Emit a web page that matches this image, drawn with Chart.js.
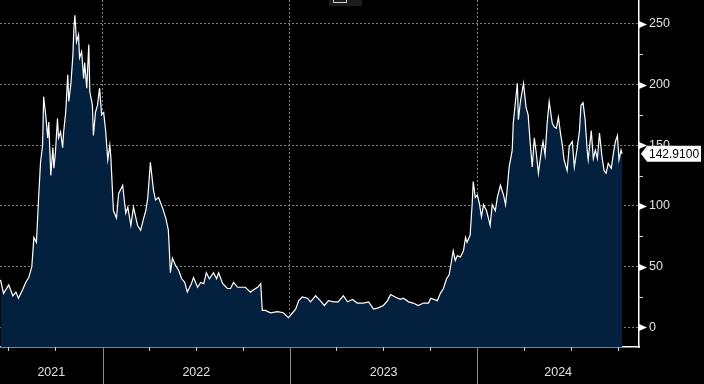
<!DOCTYPE html>
<html>
<head>
<meta charset="utf-8">
<script src="https://cdn.jsdelivr.net/npm/chart.js@4.4.1/dist/chart.umd.min.js"></script>
<style>
    html, body { margin: 0; padding: 0; background: #000; }
    #contenedor { width: 704px; height: 384px; position: relative; }
</style>
</head>
<body>
<div id="contenedor"><canvas id="precioChart"></canvas></div>
<script>
// Serie de precios (fecha aproximada -> cierre)
const fechas = [
    '2021-06-16','2021-06-22','2021-07-02','2021-07-10','2021-07-16','2021-07-21','2021-07-29','2021-08-04',
    '2021-08-10','2021-08-16','2021-08-20','2021-08-25','2021-08-27','2021-08-29','2021-09-02','2021-09-06',
    '2021-09-08','2021-09-12','2021-09-16','2021-09-18','2021-09-22','2021-09-26','2021-09-28','2021-10-01',
    '2021-10-05','2021-10-07','2021-10-11','2021-10-15','2021-10-17','2021-10-21','2021-10-25','2021-10-27',
    '2021-10-31','2021-11-04','2021-11-06','2021-11-08','2021-11-11','2021-11-15','2021-11-17','2021-11-21',
    '2021-11-25','2021-11-27','2021-12-01','2021-12-05','2021-12-07','2021-12-12','2021-12-14','2021-12-18',
    '2021-12-22','2021-12-26','2021-12-30','2022-01-03','2022-01-07','2022-01-11','2022-01-15','2022-01-17',
    '2022-01-22','2022-01-28','2022-02-01','2022-02-09','2022-02-15','2022-02-19','2022-02-25','2022-03-02',
    '2022-03-10','2022-03-16','2022-03-22','2022-03-26','2022-03-30','2022-04-04','2022-04-10','2022-04-14',
    '2022-04-20','2022-04-28','2022-05-04','2022-05-09','2022-05-11','2022-05-13','2022-05-17','2022-05-23',
    '2022-05-29','2022-06-04','2022-06-10','2022-06-15','2022-06-23','2022-06-27','2022-07-05','2022-07-11',
    '2022-07-17','2022-07-22','2022-07-28','2022-08-05','2022-08-11','2022-08-15','2022-08-23','2022-09-01',
    '2022-09-07','2022-09-13','2022-09-21','2022-09-30','2022-10-06','2022-10-16','2022-10-22','2022-10-30',
    '2022-11-05','2022-11-08','2022-11-14','2022-11-24','2022-12-08','2022-12-19','2022-12-29','2023-01-06',
    '2023-01-12','2023-01-18','2023-01-25','2023-02-04','2023-02-10','2023-02-20','2023-03-01','2023-03-09',
    '2023-03-17','2023-03-27','2023-04-05','2023-04-15','2023-04-23','2023-05-03','2023-05-12','2023-05-24',
    '2023-06-03','2023-06-13','2023-06-22','2023-07-02','2023-07-10','2023-07-16','2023-07-25','2023-08-04',
    '2023-08-10','2023-08-20','2023-08-29','2023-09-08','2023-09-18','2023-09-28','2023-10-02','2023-10-15',
    '2023-10-21','2023-10-27','2023-11-02','2023-11-07','2023-11-11','2023-11-15','2023-11-19','2023-11-23',
    '2023-11-29','2023-12-05','2023-12-09','2023-12-12','2023-12-18','2023-12-22','2023-12-24','2023-12-28',
    '2024-01-01','2024-01-05','2024-01-09','2024-01-13','2024-01-19','2024-01-22','2024-01-26','2024-01-30',
    '2024-02-05','2024-02-09','2024-02-15','2024-02-21','2024-02-25','2024-02-28','2024-03-03','2024-03-09',
    '2024-03-11','2024-03-15','2024-03-19','2024-03-21','2024-03-25','2024-03-31','2024-04-05','2024-04-09',
    '2024-04-13','2024-04-17','2024-04-21','2024-04-25','2024-04-29','2024-05-05','2024-05-08','2024-05-12',
    '2024-05-16','2024-05-20','2024-05-26','2024-05-30','2024-06-03','2024-06-07','2024-06-11','2024-06-15',
    '2024-06-18','2024-06-24','2024-06-28','2024-07-04','2024-07-08','2024-07-14','2024-07-18','2024-07-21',
    '2024-07-25','2024-07-29','2024-08-02','2024-08-04','2024-08-10','2024-08-14','2024-08-18','2024-08-22',
    '2024-08-26','2024-08-31','2024-09-04','2024-09-08','2024-09-12','2024-09-18','2024-09-22','2024-09-26',
    '2024-09-30','2024-10-03','2024-10-07','2024-10-09'
];
const precios = [
    39, 28, 35, 26, 29, 24, 31, 37,
    41, 50, 74, 70, 87, 105, 136, 150,
    190, 175, 156, 169, 125, 148, 131, 144,
    172, 156, 161, 148, 161, 177, 208, 186,
    200, 224, 247, 257, 235, 241, 222, 227,
    205, 218, 197, 233, 194, 183, 158, 177,
    183, 197, 175, 177, 161, 138, 150, 140,
    96, 90, 110, 117, 94, 99, 84, 99,
    84, 80, 90, 96, 107, 136, 113, 105,
    107, 98, 90, 80, 63, 45, 57, 51,
    47, 40, 37, 29, 36, 41, 33, 37,
    36, 45, 40, 45, 40, 45, 36, 32,
    32, 37, 33, 33, 33, 29, 31, 33,
    36, 14, 14, 12, 13, 12, 8, 12,
    15, 22, 25, 24, 21, 26, 22, 18,
    22, 21, 21, 26, 21, 23, 20, 20,
    21, 15, 16, 18, 22, 27, 25, 23,
    24, 21, 20, 18, 20, 20, 24, 22,
    28, 32, 40, 43, 53, 63, 55, 59,
    58, 63, 74, 70, 76, 102, 120, 107,
    109, 102, 91, 101, 96, 91, 84, 101,
    96, 107, 117, 109, 101, 113, 132, 146,
    168, 185, 201, 171, 186, 201, 181, 175,
    152, 132, 156, 143, 127, 146, 153, 142,
    168, 186, 168, 165, 164, 173, 160, 149,
    138, 129, 149, 153, 132, 149, 162, 183,
    185, 171, 146, 138, 162, 139, 146, 139,
    160, 140, 129, 127, 135, 131, 143, 153,
    158, 138, 146, 142.91
];

// Ejes
const inicioEje = '2021-06-15';
const finEje = '2024-11-11';
const iniciosTrimestre = [
    '2021-07-01','2021-10-01','2022-01-01','2022-04-01','2022-07-01','2022-10-01','2023-01-01',
    '2023-04-01','2023-07-01','2023-10-01','2024-01-01','2024-04-01','2024-07-01','2024-10-01'
];
const etiquetasAnio = ['2021', '2022', '2023', '2024'];
const marcasY = [0, 25, 50, 75, 100, 125, 150, 175, 200, 225, 250];
const minY = -16.2;
const maxY = 269.6;
const ultimoPrecio = precios[precios.length - 1];

const colorRejilla = 'rgba(150,150,150,0.85)';
const fuenteEjes = { family: "'Liberation Sans', Arial, sans-serif", size: 12.5 };

// Días desde el 1 de enero de 2021
function dia(fecha) {
    return (Date.parse(fecha) - Date.parse('2021-01-01')) / 864e5;
}

const xMin = dia(inicioEje);
const xMax = dia(finEje);
const limitesAnio = iniciosTrimestre.filter(f => f.endsWith('-01-01')).map(dia);

// Las etiquetas de año van centradas en la parte visible de cada año
const etiquetaX = new Map();
etiquetasAnio.forEach(a => {
    const desde = Math.max(dia(a + '-01-01'), xMin);
    const hasta = Math.min(dia((+a + 1) + '-01-01'), xMax);
    etiquetaX.set((desde + hasta) / 2, a);
});
const ticksX = iniciosTrimestre.map(dia).concat([...etiquetaX.keys()]).sort((a, b) => a - b);

// Sin márgenes automáticos: el área del gráfico llega al borde izquierdo y al superior
function sinRelleno(eje) {
    eje.paddingTop = 0;
    eje.paddingBottom = 0;
    eje.paddingLeft = 0;
    eje.paddingRight = 0;
}

// Marcas que Chart.js no dibuja solo: triángulos, marcas cortas, separadores y etiqueta de precio
const marcasEjes = {
    id: 'marcasEjes',
    afterDraw(chart) {
        const { ctx, chartArea: area, scales: { x, y } } = chart;
        ctx.save();

        // eje derecho
        marcasY.forEach(v => {
            const py = Math.round(y.getPixelForValue(v)) + 0.5;
            if (v % 50 === 0) {
                ctx.fillStyle = '#ffffff';
                ctx.beginPath();
                ctx.moveTo(area.right, py - 3.5);
                ctx.lineTo(area.right + 8, py);
                ctx.lineTo(area.right, py + 3.5);
                ctx.closePath();
                ctx.fill();
            } else {
                ctx.strokeStyle = '#d0d0d0';
                ctx.lineWidth = 1;
                ctx.beginPath();
                ctx.moveTo(area.right, py);
                ctx.lineTo(area.right + 4, py);
                ctx.stroke();
            }
        });

        // eje inferior
        iniciosTrimestre.forEach(f => {
            const px = Math.round(x.getPixelForValue(dia(f))) + 0.5;
            if (px < area.left || px > area.right) return;
            ctx.lineWidth = 1;
            ctx.beginPath();
            if (f.endsWith('-01-01')) {
                ctx.strokeStyle = '#8a8a8a';
                ctx.moveTo(px, area.bottom);
                ctx.lineTo(px, chart.height);
            } else {
                ctx.strokeStyle = '#d0d0d0';
                ctx.moveTo(px, area.bottom);
                ctx.lineTo(px, area.bottom + 4);
            }
            ctx.stroke();
        });

        // etiqueta del último precio
        const pt = y.getPixelForValue(ultimoPrecio);
        ctx.fillStyle = '#ffffff';
        ctx.beginPath();
        ctx.moveTo(area.right + 2, pt);
        ctx.lineTo(area.right + 8, pt - 8);
        ctx.lineTo(area.right + 62, pt - 8);
        ctx.lineTo(area.right + 62, pt + 8);
        ctx.lineTo(area.right + 8, pt + 8);
        ctx.closePath();
        ctx.fill();
        ctx.fillStyle = '#000000';
        ctx.font = "12px 'Liberation Sans', Arial, sans-serif";
        ctx.textBaseline = 'middle';
        ctx.textAlign = 'left';
        ctx.fillText(ultimoPrecio.toFixed(4), area.right + 10, pt + 1);

        // resto de la leyenda que asoma arriba
        ctx.fillStyle = '#1c1c1c';
        ctx.fillRect(329, 0, 33, 6);
        ctx.strokeStyle = '#d0d0d0';
        ctx.strokeRect(333.5, -4.5, 13, 7);

        ctx.restore();
    }
};

const ctx = document.getElementById('precioChart').getContext('2d');

new Chart(ctx, {
    type: 'line',
    data: {
        datasets: [{
            data: fechas.map((f, i) => ({ x: dia(f), y: precios[i] })),
            borderColor: '#ffffff',
            borderWidth: 1.2,
            backgroundColor: '#03203f',
            fill: 'start',
            pointRadius: 0,
            pointHoverRadius: 0,
            tension: 0
        }]
    },
    options: {
        responsive: true,
        maintainAspectRatio: false,
        animation: false,
        devicePixelRatio: 1,
        layout: { padding: 0, autoPadding: false },
        plugins: {
            legend: { display: false },
            tooltip: { enabled: false }
        },
        scales: {
            x: {
                type: 'linear',
                min: xMin,
                max: xMax,
                bounds: 'data',
                z: 1,
                afterBuildTicks: eje => { eje.ticks = ticksX.map(v => ({ value: v })); },
                afterFit: eje => { eje.height = 37; sinRelleno(eje); },
                grid: {
                    color: c => (c.tick && limitesAnio.includes(c.tick.value)) ? colorRejilla : 'rgba(0,0,0,0)',
                    drawTicks: false,
                    lineWidth: 1
                },
                border: { display: true, color: '#ffffff', width: 1.5, dash: [2, 2] },
                ticks: {
                    autoSkip: false,
                    maxRotation: 0,
                    padding: 18,
                    color: '#e0e0e0',
                    font: fuenteEjes,
                    callback: v => etiquetaX.get(v) || ''
                }
            },
            y: {
                position: 'right',
                min: minY,
                max: maxY,
                bounds: 'data',
                z: 1,
                afterBuildTicks: eje => { eje.ticks = marcasY.map(v => ({ value: v })); },
                afterFit: eje => { eje.width = 65; sinRelleno(eje); },
                grid: {
                    color: c => (c.tick && c.tick.value % 50 === 0) ? colorRejilla : 'rgba(0,0,0,0)',
                    drawTicks: false,
                    lineWidth: 1
                },
                border: { display: true, color: '#ffffff', width: 1.5, dash: [2, 2] },
                ticks: {
                    padding: 10,
                    color: '#e0e0e0',
                    font: fuenteEjes,
                    callback: v => v % 50 === 0 ? String(v) : ''
                }
            }
        }
    },
    plugins: [marcasEjes]
});
</script>
</body>
</html>
